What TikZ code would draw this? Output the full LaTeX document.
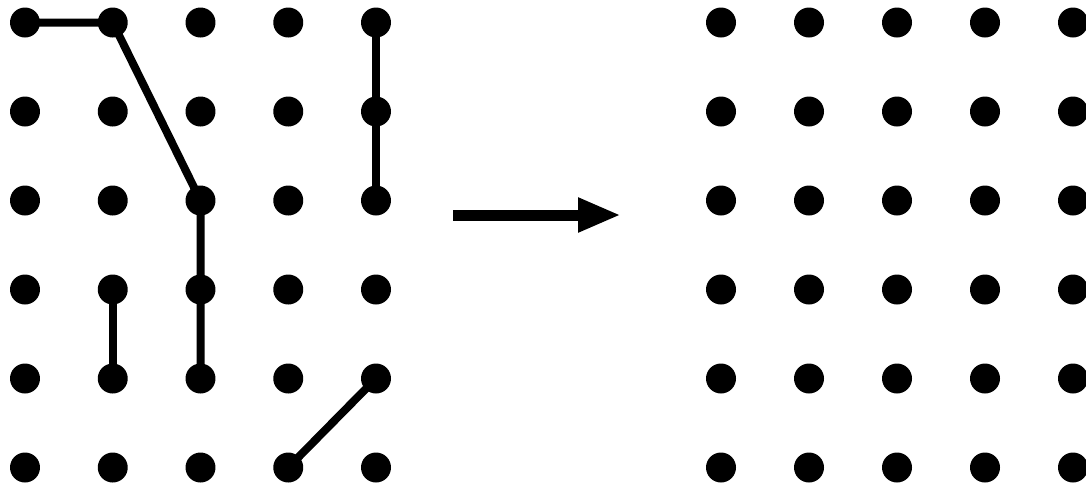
\documentclass[tikz,border=0pt]{standalone}
\usepackage{tikz}
\usetikzlibrary{
    arrows.meta,
    positioning
}

\begin{document}
\begin{tikzpicture}[
    x=0.02cm, y=-0.02cm,
    dot/.style={
        circle,
        fill=black,
        inner sep=0pt,
        minimum size=0.6cm
    },
    link/.style={
        line width=0.16cm
    }
]

\useasboundingbox (0,0) rectangle (1086,488);

% left grid
\foreach \i in {0,...,4}{
    \foreach \j in {0,...,5}{
        \node[dot] (L-\i-\j) at ({25+87.75*\i},{22.5+89*\j}) {};
    }
}

% right grid
\foreach \i in {0,...,4}{
    \foreach \j in {0,...,5}{
        \node[dot] (R-\i-\j) at ({721+88*\i},{22.5+89*\j}) {};
    }
}

\draw[link] (L-0-0.center) -- (L-1-0.center) -- (L-2-2.center)
    -- (L-2-3.center) -- (L-2-4.center);
\draw[link] (L-4-0.center) -- (L-4-1.center) -- (L-4-2.center);
\draw[link] (L-1-3.center) -- (L-1-4.center);
\draw[link] (L-4-4.center) -- (L-3-5.center);

\coordinate (arrowstart) at (453,215);
\coordinate (arrowend) at (621,215);
\draw[-{Triangle[length=0.86cm, width=0.64cm]}, line width=0.22cm]
    (arrowstart) -- (arrowend);

\end{tikzpicture}
\end{document}
